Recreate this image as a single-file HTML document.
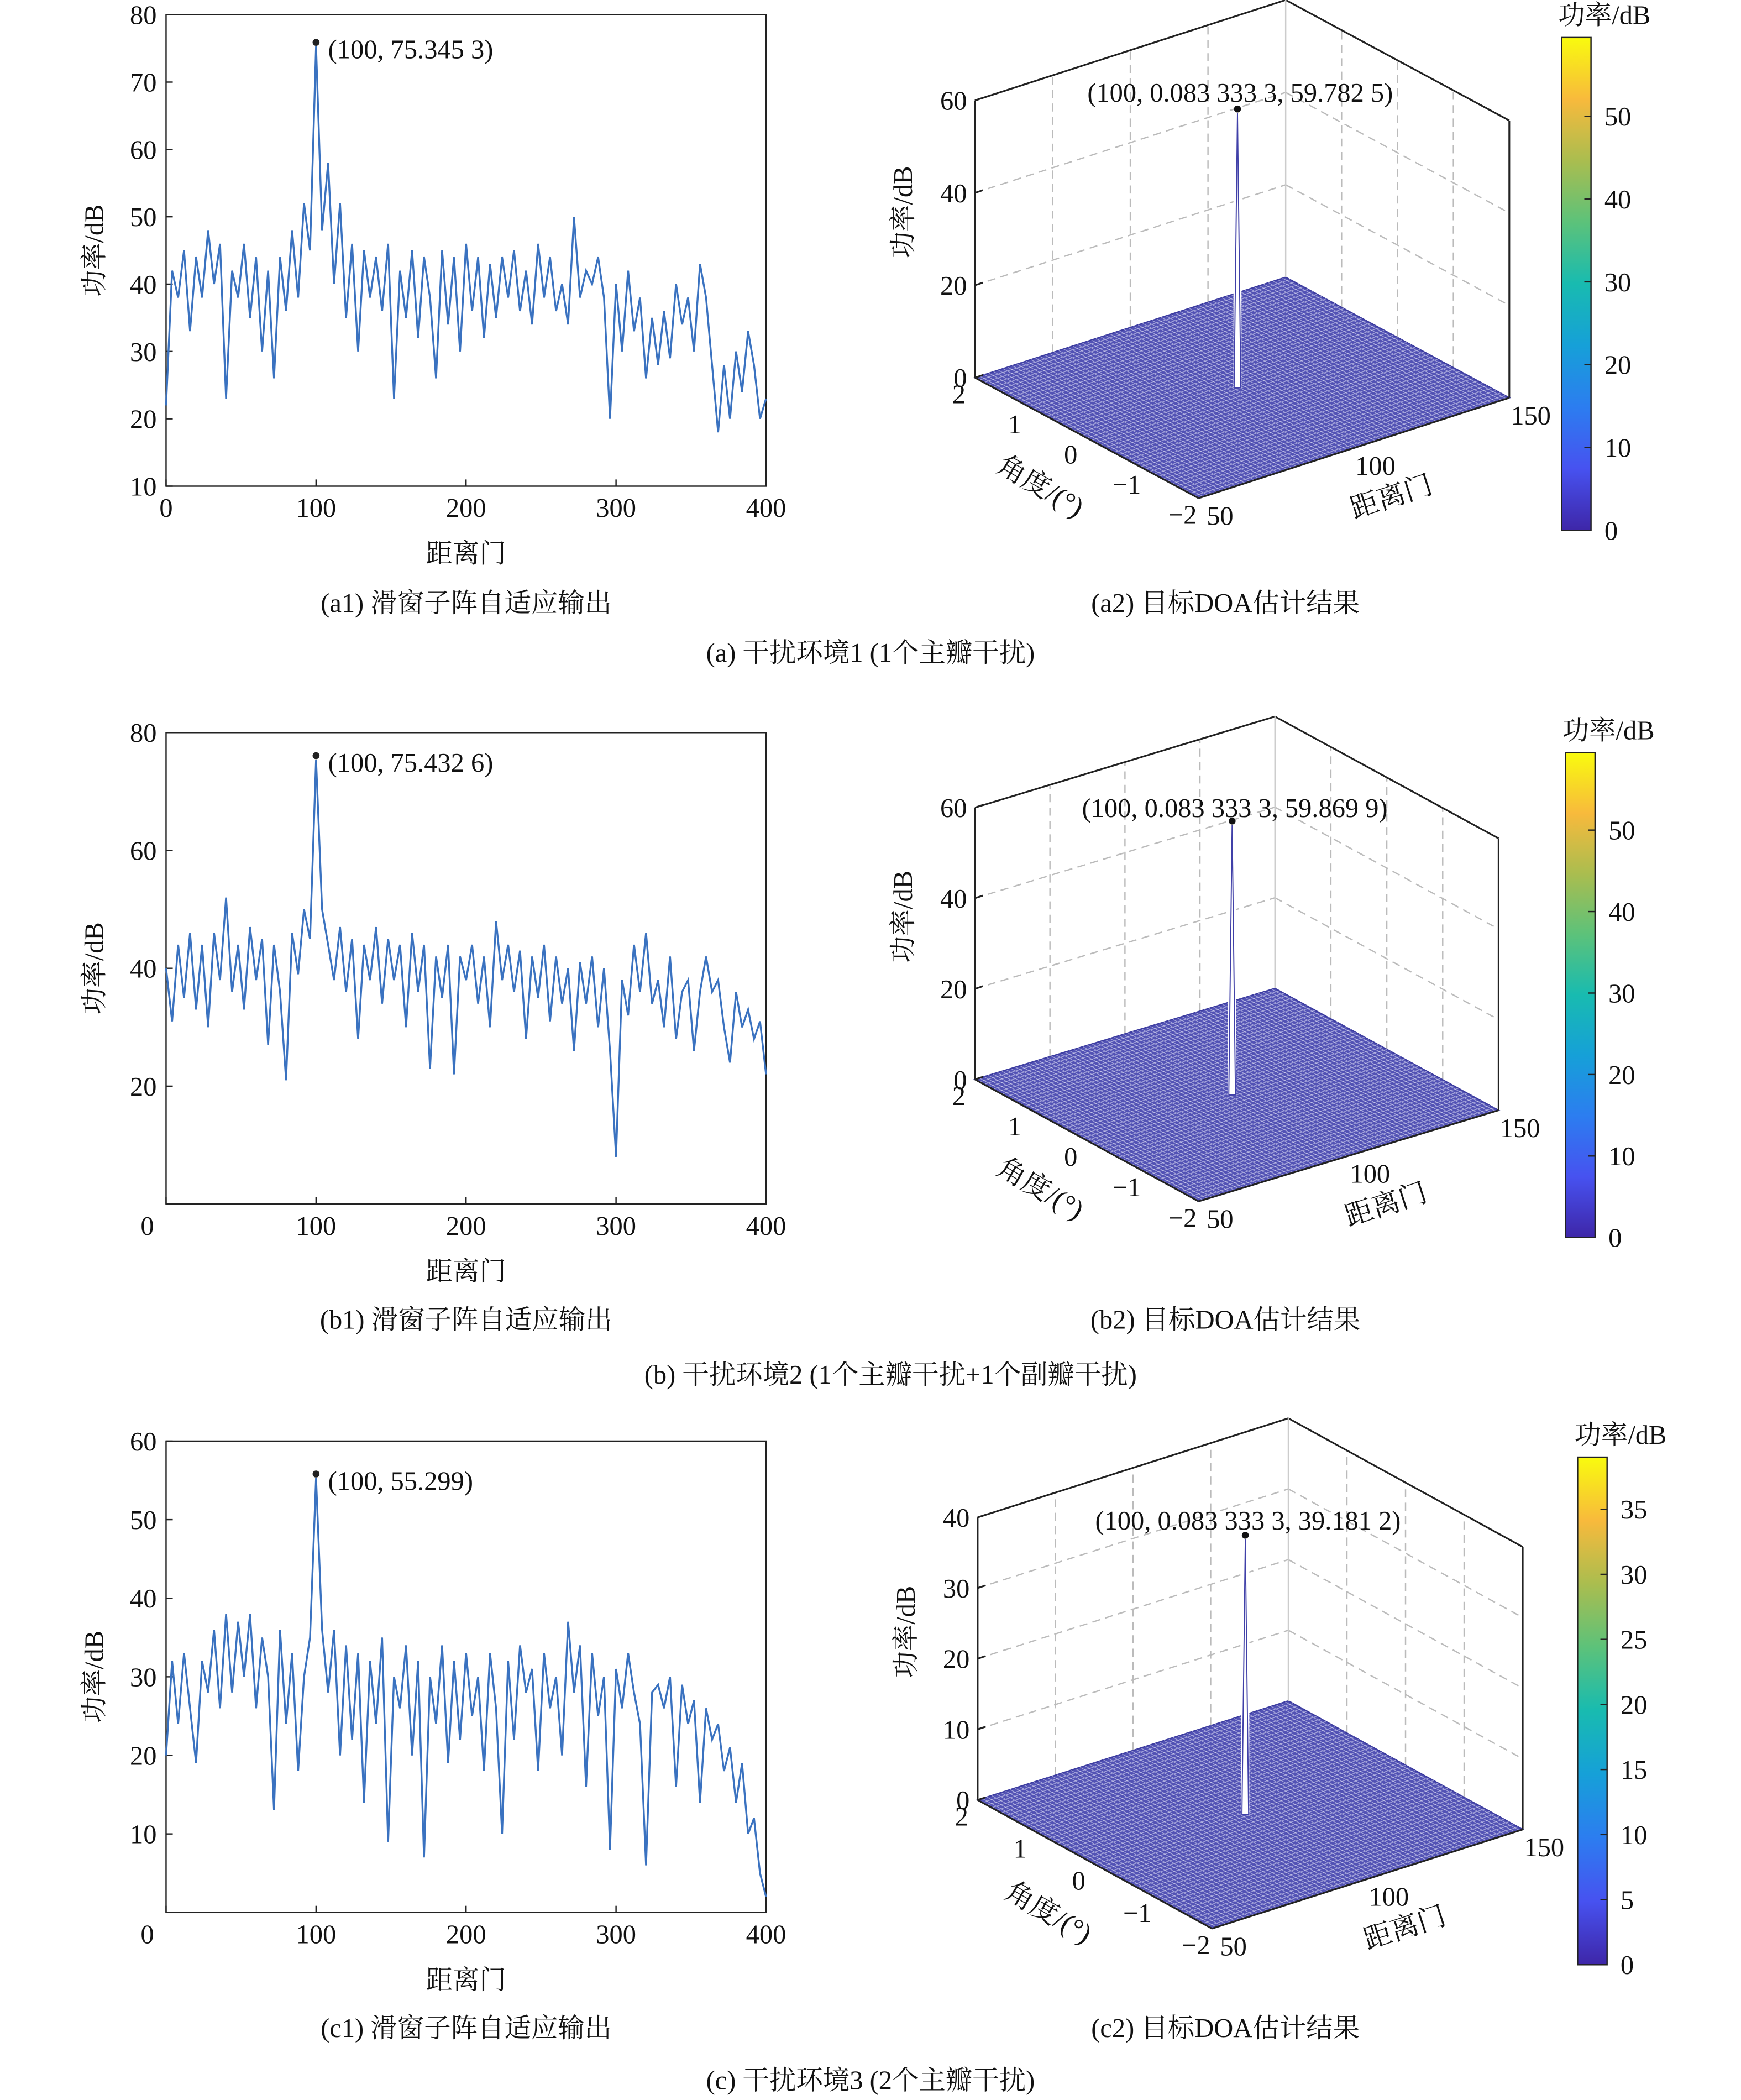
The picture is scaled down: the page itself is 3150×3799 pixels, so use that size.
<!DOCTYPE html>
<html><head><meta charset="utf-8"><style>
html,body{margin:0;padding:0;background:#fff;}
svg{display:block;font-family:"Liberation Serif","Noto Serif CJK SC",serif;}
</style></head><body>
<svg id="fig" width="3150" height="3799" viewBox="0 0 1300 1568" preserveAspectRatio="none" xmlns="http://www.w3.org/2000/svg">
<defs>
<linearGradient id="parula" x1="0" y1="1" x2="0" y2="0">
<stop offset="0" stop-color="#3E26A8"/><stop offset="0.125" stop-color="#4752F0"/><stop offset="0.25" stop-color="#2C7DF0"/><stop offset="0.375" stop-color="#16A0D8"/><stop offset="0.5" stop-color="#18BBB0"/><stop offset="0.625" stop-color="#5CC27A"/><stop offset="0.75" stop-color="#AABD4F"/><stop offset="0.875" stop-color="#F8BA3C"/><stop offset="1" stop-color="#F9FB0E"/>
</linearGradient>
</defs>
</svg>
<script>
// ---- chart data ----
const xStep = 4;
const xTicks = [0, 100, 200, 300, 400];
const seriesA = [22,42,38,45,33,44,38,48,40,46,23,42,38,46,35,44,30,42,26,44,36,48,38,52,45,75.3,48,58,40,52,35,46,30,45,38,44,36,46,23,42,35,45,32,44,38,26,45,34,44,30,46,36,44,32,43,35,44,38,45,36,42,34,46,38,44,36,40,34,50,38,42,40,44,38,20,40,30,42,33,38,26,35,28,36,29,40,34,38,30,43,38,28,18,28,20,30,24,33,28,20,23];
const seriesB = [40,31,44,35,46,33,44,30,46,38,52,36,44,33,47,38,45,27,44,36,21,46,39,50,45,75.4,50,44,38,47,36,45,28,44,38,47,34,45,38,44,30,46,36,44,23,42,35,44,22,42,38,44,34,42,30,48,38,44,36,43,28,42,35,44,31,42,34,40,26,41,34,42,30,40,26,8,38,32,44,36,46,34,38,30,42,28,36,38,26,36,42,36,38,30,24,36,30,33,28,31,22];
const seriesC = [20,32,24,33,26,19,32,28,36,26,38,28,37,30,38,26,35,30,13,36,24,33,18,30,35,55.3,36,28,36,20,34,22,33,14,32,24,35,9,30,26,34,20,32,7,30,24,34,19,32,22,33,25,30,18,33,26,10,32,22,34,28,31,18,33,26,30,20,37,28,34,16,33,25,30,8,31,26,33,28,24,6,28,29,26,30,16,29,24,27,14,26,22,24,18,21,14,19,10,12,5,2];
const yTicksA = [10,20,30,40,50,60,70,80];
const yTicksB = [20,40,60,80];
const yTicksC = [10,20,30,40,50,60];
const peakRange = 100;
const peakAngle = 0.0833333;
const peakA = 59.7825, peakB = 59.8699, peakC = 39.1812;
const zTicksAB = [0,20,40,60];
const zTicksC = [0,10,20,30,40];
const angleTicks = [2,1,0,-1,-2];
const rangeTicks = [50,100,150];
const cbTicksAB = [0,10,20,30,40,50];
const cbTicksC = [0,5,10,15,20,25,30,35];

const NS = "http://www.w3.org/2000/svg";
const svg = document.getElementById('fig');
function mk(tag, attrs, parent) {
  const e = document.createElementNS(NS, tag);
  for (const k in attrs) e.setAttribute(k, attrs[k]);
  (parent || svg).appendChild(e);
  return e;
}
function txt(s, x, y, size, anchor, parent, rot) {
  const t = mk('text', {x: x, y: y, 'font-size': size, 'text-anchor': anchor || 'middle', fill: '#111'}, parent);
  if (rot) t.setAttribute('transform', 'rotate(' + rot + ' ' + x + ' ' + y + ')');
  t.textContent = s;
  return t;
}

function linePlot(id, y0, y1, ymin, ymax, yTicks, data, annot, showZero) {
  const g = mk('g', {});
  
  
  const x0 = 124, x1 = 572;
  const sx = v => x0 + (v - 0) / 400 * (x1 - x0);
  const sy = v => y1 - (v - ymin) / (ymax - ymin) * (y1 - y0);
  const box = mk('rect', {x: x0, y: y0, width: x1 - x0, height: y1 - y0, fill: 'none', stroke: '#222', 'stroke-width': 1}, g);
  
  
  xTicks.forEach(v => {
    const tk = mk('line', {x1: sx(v), x2: sx(v), y1: y1, y2: y1 - 5, stroke: '#222'}, g);
    
    
    if (v === 0 && showZero) return;
    const l = txt(String(v), sx(v), y1 + 23, 20, 'middle', g);
    
    
  });
  if (showZero) {
    const z = txt('0', 110, y1 + 23, 20, 'middle', g);
    
    
  }
  yTicks.forEach(v => {
    const tk = mk('line', {x1: x0, x2: x0 + 5, y1: sy(v), y2: sy(v), stroke: '#222'}, g);
    
    
    const l = txt(String(v), x0 - 7, sy(v) + 7, 20, 'end', g);
    
    
  });
  const pts = data.map((v, i) => sx(i * xStep).toFixed(1) + ',' + sy(Math.max(ymin, v)).toFixed(1)).join(' ');
  const pl = mk('polyline', {points: pts, fill: 'none', stroke: '#3a72c0', 'stroke-width': 1.4}, g);
  
  
  const pi = peakRange / xStep;
  const dot = mk('circle', {cx: sx(peakRange), cy: sy(data[pi]) - 3, r: 2.6, fill: '#222'}, g);
  
  
  const at = txt(annot, sx(peakRange) + 9, sy(data[pi]) + 9, 20, 'start', g);
  
  
  const xl = txt('距离门', 348, y1 + 57, 20, 'middle', g);
  
  
  const yl = txt('功率/dB', 77, (y0 + y1) / 2, 20, 'middle', g, -90);
  
  
}

function plot3d(id, L, F, R, zpx, zmax, zTicks, peak, annot, annotY) {
  const g = mk('g', {});
  
  
  const Vr = [R[0] - F[0], R[1] - F[1]], Va = [F[0] - L[0], F[1] - L[1]];
  const P = (r, a, z) => [L[0] + (r - 50) / 100 * Vr[0] + (2 - a) / 4 * Va[0], L[1] + (r - 50) / 100 * Vr[1] + (2 - a) / 4 * Va[1] - z * zpx];
  const ln = (p, q, attrs, name) => {
    const e = mk('line', Object.assign({x1: p[0], y1: p[1], x2: q[0], y2: q[1]}, attrs), g);
    
    
    return e;
  };
  const dash = {stroke: '#bbb', 'stroke-width': 1, 'stroke-dasharray': '6,4'};
  zTicks.forEach(z => { if (z > 0) { ln(P(50, 2, z), P(150, 2, z), dash, id + '-gridline'); ln(P(150, 2, z), P(150, -2, z), dash, id + '-gridline'); } });
  [75, 100, 125].forEach(r => ln(P(r, 2, 0), P(r, 2, zmax), dash, id + '-gridline'));
  [1, 0, -1].forEach(a => ln(P(150, a, 0), P(150, a, zmax), dash, id + '-gridline'));
  const c = [P(50, 2, 0), P(150, 2, 0), P(150, -2, 0), P(50, -2, 0)];
  const fl = mk('polygon', {points: c.map(p => p.join(',')).join(' '), fill: '#5252b4', stroke: '#3c3ca0', 'stroke-width': 1}, g);
  
  
  for (let r = 51.5; r < 150; r += 1.5) ln(P(r, 2, 0), P(r, -2, 0), {stroke: '#e8e8fa', 'stroke-width': 0.5, opacity: 0.55}, id + '-mesh-line');
  for (let a = -1.92; a < 2; a += 0.08) ln(P(50, a, 0), P(150, a, 0), {stroke: '#e8e8fa', 'stroke-width': 0.5, opacity: 0.55}, id + '-mesh-line');
  const b = P(peakRange, peakAngle, 0), t = P(peakRange, peakAngle, peak);
  const gap = mk('rect', {x: b[0] - 3, y: t[1] + 8, width: 6, height: b[1] - t[1] - 6, fill: '#fff'}, g);
  
  
  const sp = mk('polygon', {points: [b[0] - 2.5, b[1] + 2, t[0], t[1] + 3, b[0] + 2.5, b[1] + 2].join(' '), fill: '#fff', stroke: '#4040a8', 'stroke-width': 0.8}, g);
  
  
  const k = {stroke: '#222', 'stroke-width': 1.3};
  ln(P(50, 2, 0), P(50, 2, zmax), k, id + '-z-axis');
  ln(P(50, 2, zmax), P(150, 2, zmax), k, id + '-box-edge');
  ln(P(150, 2, zmax), P(150, -2, zmax), k, id + '-box-edge');
  ln(P(150, -2, zmax), P(150, -2, 0), k, id + '-box-edge');
  ln(P(150, 2, 0), P(150, 2, zmax), {stroke: '#ccc', 'stroke-width': 1}, id + '-box-edge');
  ln(P(50, 2, 0), P(50, -2, 0), k, id + '-angle-axis');
  ln(P(50, -2, 0), P(150, -2, 0), k, id + '-range-axis');
  zTicks.forEach(z => {
    const p = P(50, 2, z);
    ln(p, [p[0] + 6, p[1] - 2], k, id + '-z-tick');
    const l = txt(String(z), p[0] - 6, p[1] + 7, 20, 'end', g);
    
    
  });
  angleTicks.forEach(a => {
    const p = P(50, a, 0);
    const l = txt(a < 0 ? '\u2212' + (-a) : String(a), p[0] - 12, p[1] + 19, 20, 'middle', g);
    
    
  });
  rangeTicks.forEach(r => {
    const p = P(r, -2, 0);
    const l = txt(String(r), p[0] + 16, p[1] + 20, 20, 'middle', g);
    
    
  });
  const dot = mk('circle', {cx: t[0], cy: t[1], r: 2.6, fill: '#111'}, g);
  
  
  const at = txt(annot, t[0] + 2, annotY, 20, 'middle', g);
  
  
  const ma = P(50, 0, 0), mr = P(100, -2, 0);
  const al = txt('角度/(°)', ma[0] - 38, ma[1] + 42, 21, 'middle', g, 30);
  
  
  const rl = txt('距离门', mr[0] + 30, mr[1] + 43, 21, 'middle', g, -18);
  
  
  const zm = P(50, 2, zmax / 2);
  const zl = txt('功率/dB', zm[0] - 47, zm[1] - 20, 20, 'middle', g, -90);
  
  
}

function colorbar(id, x, y0, y1, vmax, ticks) {
  const g = mk('g', {});
  
  
  const r = mk('rect', {x: x, y: y0, width: 22, height: y1 - y0, fill: 'url(#parula)', stroke: '#222', 'stroke-width': 1}, g);
  
  
  ticks.forEach(v => {
    const yy = y1 - v / vmax * (y1 - y0);
    const tk = mk('line', {x1: x + 22, x2: x + 17, y1: yy, y2: yy, stroke: '#222'}, g);
    
    
    const l = txt(String(v), x + 32, yy + 7, 20, 'start', g);
    
    
  });
  const tt = txt('功率/dB', x + 32, y0 - 10, 20, 'middle', g);
  
  
}

linePlot('a1', 11, 363, 10, 80, yTicksA, seriesA, '(100, 75.345 3)', false);
linePlot('b1', 547, 899, 0, 80, yTicksB, seriesB, '(100, 75.432 6)', true);
linePlot('c1', 1076, 1428, 0, 60, yTicksC, seriesC, '(100, 55.299)', true);
plot3d('a2', [728, 282], [895, 372], [1127, 297], 207 / 60, 60, zTicksAB, peakA, '(100, 0.083 333 3, 59.782 5)', 76);
plot3d('b2', [728, 806], [895, 897], [1119, 829], 203 / 60, 60, zTicksAB, peakB, '(100, 0.083 333 3, 59.869 9)', 610);
plot3d('c2', [730, 1344], [905, 1440], [1137, 1366], 211 / 40, 40, zTicksC, peakC, '(100, 0.083 333 3, 39.181 2)', 1142);
colorbar('a2', 1166, 28, 396, 59.5, cbTicksAB);
colorbar('b2', 1169, 562, 924, 59.5, cbTicksAB);
colorbar('c2', 1178, 1088, 1467, 39, cbTicksC);

const caps = [
  ['(a1) 滑窗子阵自适应输出', 348, 457, 'caption-a1'], ['(a2) 目标DOA估计结果', 915, 457, 'caption-a2'],
  ['(a) 干扰环境1 (1个主瓣干扰)', 650, 494, 'caption-a'],
  ['(b1) 滑窗子阵自适应输出', 348, 992, 'caption-b1'], ['(b2) 目标DOA估计结果', 915, 992, 'caption-b2'],
  ['(b) 干扰环境2 (1个主瓣干扰+1个副瓣干扰)', 665, 1033, 'caption-b'],
  ['(c1) 滑窗子阵自适应输出', 348, 1521, 'caption-c1'], ['(c2) 目标DOA估计结果', 915, 1521, 'caption-c2'],
  ['(c) 干扰环境3 (2个主瓣干扰)', 650, 1560, 'caption-c']
];
caps.forEach(cp => {
  const t = txt(cp[0], cp[1], cp[2], 20, 'middle');
  
  
});
</script>
</body></html>
